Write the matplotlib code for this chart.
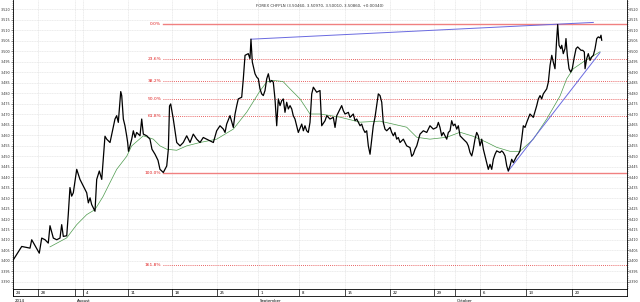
import matplotlib
matplotlib.use("Agg")
import matplotlib.pyplot as plt
from matplotlib.ticker import MultipleLocator, FormatStrFormatter
import numpy as np

# trading-day position and close price
t = [0.03, 0.97, 1.89, 2.08, 2.92, 3.19, 3.56, 3.92, 4.11, 4.48, 4.86, 5.22, 5.41, 5.59, 5.97,
     6.14, 6.33, 6.52, 6.70, 7.08, 7.44, 7.81, 8.19, 8.37, 8.56, 8.74, 9.11, 9.30, 9.59, 9.86,
     10.11, 10.22, 10.41, 10.78, 11.33, 11.52, 11.70, 11.97, 12.08, 12.26, 12.44, 12.63, 12.74,
     12.83, 13.00, 13.19, 13.37, 13.56, 13.74, 14.11, 14.30, 14.48, 14.86, 15.22, 15.44, 15.78,
     16.11, 16.33, 16.70, 17.08, 17.26, 17.39, 17.52, 17.81, 18.19, 18.56, 18.92, 19.30, 19.67,
     20.03, 20.41, 20.78, 21.14, 21.52, 21.89, 22.26, 22.63, 23.00, 23.37, 23.56, 23.74, 24.11,
     24.48, 24.67, 24.86, 25.03, 25.41, 25.59, 25.78, 26.14, 26.33, 26.44, 26.59, 26.89, 27.08,
     27.26, 27.44, 27.63, 27.81, 28.00, 28.19, 28.37, 28.56, 28.74, 28.92, 29.11, 29.30, 29.48,
     29.67, 29.86, 30.03, 30.22, 30.41, 30.59, 30.78, 30.97, 31.14, 31.33, 31.52, 31.70, 32.08,
     32.26, 32.44, 32.63, 32.81, 33.00, 33.19, 33.37, 33.74, 34.11, 34.30, 34.67, 34.86, 35.22,
     35.59, 35.78, 35.97, 36.33, 36.52, 36.70, 36.89, 37.26, 37.44, 37.81, 38.00, 38.19, 38.56,
     38.74, 38.92, 39.11, 39.30, 39.48, 39.67, 40.03, 40.22, 40.41, 40.59, 40.78, 40.97, 41.14,
     41.33, 41.52, 41.89, 42.08, 42.26, 42.44, 42.63, 42.81, 43.00, 43.37, 43.74, 44.11, 44.30,
     44.48, 44.67, 44.86, 45.22, 45.59, 45.97, 46.33, 46.70, 47.08, 47.26, 47.44, 47.63, 47.81,
     48.19, 48.37, 48.56, 48.74, 48.92, 49.11, 49.30, 49.48, 49.67, 50.03, 50.41, 50.59, 50.78,
     50.97, 51.14, 51.33, 51.52, 51.70, 51.89, 52.08, 52.26, 52.63, 52.81, 53.00, 53.19, 53.37,
     53.56, 53.74, 54.11, 54.30, 54.48, 54.67, 54.86, 55.03, 55.22, 55.41, 55.59, 55.97, 56.14,
     56.33, 56.52, 56.70, 56.89, 57.08, 57.44, 57.63, 57.81, 58.19, 58.37, 58.56, 58.74, 58.92,
     59.30, 59.48, 59.67, 59.86, 60.03, 60.22, 60.30, 60.41, 60.52, 60.67, 60.86, 60.97, 61.14,
     61.33, 61.44, 61.59, 61.78, 61.97, 62.14, 62.33, 62.56, 62.74, 62.92, 63.11, 63.30, 63.48,
     63.56, 63.74, 63.92, 64.11, 64.30, 64.48, 64.67, 64.86, 65.03, 65.22, 65.33, 65.41]
price = [3.4005, 3.4069, 3.4061, 3.4101, 3.4037, 3.4109, 3.4101, 3.4085, 3.4168, 3.4109, 3.4101,
         3.4109, 3.4173, 3.4117, 3.4120, 3.4221, 3.4350, 3.4309, 3.4325, 3.4437, 3.4389, 3.4357,
         3.4325, 3.4277, 3.4301, 3.4269, 3.4237, 3.4389, 3.4429, 3.4389, 3.4533, 3.4595, 3.4581,
         3.4565, 3.4677, 3.4693, 3.4661, 3.4808, 3.4789, 3.4677, 3.4645, 3.4597, 3.4565, 3.4523,
         3.4549, 3.4581, 3.4621, 3.4589, 3.4613, 3.4597, 3.4677, 3.4605, 3.4597, 3.4581, 3.4533,
         3.4509, 3.4480, 3.4437, 3.4422, 3.4453, 3.4533, 3.4739, 3.4749, 3.4677, 3.4565, 3.4549,
         3.4565, 3.4597, 3.4565, 3.4605, 3.4581, 3.4565, 3.4589, 3.4581, 3.4573, 3.4565, 3.4621,
         3.4645, 3.4629, 3.4613, 3.4653, 3.4693, 3.4637, 3.4701, 3.4741, 3.4773, 3.4781, 3.4869,
         3.4981, 3.4989, 3.4965, 3.5058, 3.4949, 3.4893, 3.4877, 3.4869, 3.4821, 3.4797, 3.4789,
         3.4813, 3.4869, 3.4893, 3.4853, 3.4861, 3.4853, 3.4773, 3.4645, 3.4773, 3.4741, 3.4765,
         3.4773, 3.4709, 3.4757, 3.4725, 3.4741, 3.4725, 3.4693, 3.4677, 3.4645, 3.4613, 3.4653,
         3.4621, 3.4645, 3.4621, 3.4613, 3.4661, 3.4797, 3.4829, 3.4805, 3.4813, 3.4645, 3.4669,
         3.4693, 3.4677, 3.4685, 3.4637, 3.4693, 3.4725, 3.4741, 3.4717, 3.4701, 3.4709, 3.4685,
         3.4701, 3.4669, 3.4677, 3.4645, 3.4653, 3.4629, 3.4613, 3.4621, 3.4549, 3.4509, 3.4645,
         3.4685, 3.4741, 3.4797, 3.4789, 3.4757, 3.4661, 3.4629, 3.4621, 3.4637, 3.4613, 3.4597,
         3.4613, 3.4581, 3.4589, 3.4565, 3.4581, 3.4549, 3.4541, 3.4499, 3.4509, 3.4533, 3.4549,
         3.4605, 3.4621, 3.4613, 3.4645, 3.4629, 3.4637, 3.4661, 3.4637, 3.4597, 3.4613, 3.4581,
         3.4613, 3.4621, 3.4669, 3.4645, 3.4653, 3.4629, 3.4645, 3.4597, 3.4581, 3.4565, 3.4549,
         3.4517, 3.4501, 3.4533, 3.4581, 3.4613, 3.4597, 3.4549, 3.4581, 3.4533, 3.4469, 3.4437,
         3.4461, 3.4437, 3.4485, 3.4509, 3.4525, 3.4517, 3.4525, 3.4517, 3.4501, 3.4453, 3.4429,
         3.4453, 3.4485, 3.4469, 3.4501, 3.4509, 3.4525, 3.4581, 3.4645, 3.4637, 3.4661, 3.4701,
         3.4693, 3.4685, 3.4741, 3.4773, 3.4789, 3.4773, 3.4797, 3.4821, 3.4853, 3.4933, 3.4981,
         3.4949, 3.4917, 3.4981, 3.5061, 3.5128, 3.5029, 3.5013, 3.5029, 3.4989, 3.5013, 3.5061,
         3.4981, 3.4917, 3.4901, 3.4917, 3.4965, 3.5013, 3.5021, 3.5013, 3.5005, 3.5005, 3.4997,
         3.4917, 3.4965, 3.4989, 3.4957, 3.4973, 3.4981, 3.5013, 3.5061, 3.5069, 3.5064, 3.5077,
         3.5053]

# moving average
ma_t = [4.11, 5.97, 7.08, 8.19, 9.11, 10.0, 10.78, 11.52, 12.63, 13.19, 14.48, 15.59, 16.33,
        17.08, 18.19, 19.30, 20.78, 22.63, 24.48, 25.97, 26.67, 27.44, 28.19, 28.92, 30.0, 30.78,
        31.89, 33.0, 34.11, 36.33, 38.56, 40.78, 42.22, 43.74, 44.86, 46.33, 48.19, 49.67, 51.11,
        52.63, 53.74, 55.22, 56.33, 57.81, 59.30, 60.78, 61.52, 62.26, 63.37, 64.48, 65.22]
ma = [3.4067, 3.4110, 3.4173, 3.4221, 3.4245, 3.4307, 3.4374, 3.4437, 3.4499, 3.4549, 3.4597,
      3.4581, 3.4549, 3.4533, 3.4528, 3.4549, 3.4565, 3.4581, 3.4629, 3.4710, 3.4758, 3.4811,
      3.4854, 3.4861, 3.4856, 3.4821, 3.4773, 3.4701, 3.4701, 3.4686, 3.4662, 3.4667, 3.4653,
      3.4638, 3.4590, 3.4581, 3.4590, 3.4614, 3.4595, 3.4566, 3.4542, 3.4523, 3.4523, 3.4581,
      3.4677, 3.4787, 3.4869, 3.4917, 3.4950, 3.4979, 3.4998]

# trend lines
trend1_t = [26.44, 64.48]
trend1 = [3.5058, 3.5138]
trend2_t = [55.03, 65.22]
trend2 = [3.4429, 3.4994]

# fibonacci retracement
fib_high = 3.5129
fib_low = 3.4418
fib_start = 16.67
fib_ratios = [0.0, 0.236, 0.382, 0.5, 0.618, 1.0, 1.618]
fib_labels = ["0.0%", "23.6%", "38.2%", "50.0%", "61.8%", "100.0%", "161.8%"]

# x ticks (trading days)
tick_pos = [0.0, 2.78, 6.9, 7.78, 12.78, 17.67, 22.67, 27.22, 31.78, 36.89, 41.89, 46.78, 49.1,
            51.89, 57.0, 62.11]
tick_day = ["24", "28", "", "4", "11", "18", "25", "1", "8", "15", "22", "29", "", "6", "13", "20"]
month_pos = [0.0, 6.9, 27.22, 49.1]
month_lab = ["2014", "August", "September", "October"]

title = "FOREX CHFPLN (3.50460, 3.50970, 3.50010, 3.50860, +0.00340)"

fig = plt.figure(figsize=(6.4, 3.02), dpi=100)
ax = fig.add_axes([13 / 640, 13 / 302, 614 / 640, 289 / 302])
xmax = 68.22
ax.set_xlim(0, xmax)
ax.set_ylim(3.3866, 3.5245)

ax.yaxis.set_major_locator(MultipleLocator(0.005))
ax.yaxis.set_minor_locator(MultipleLocator(0.001))
ax.yaxis.set_major_formatter(FormatStrFormatter("%.3f"))
ax.tick_params(axis="y", which="both", left=True, right=True, labelleft=True, labelright=True,
               direction="out", labelsize=2.4, colors="#333333", pad=0.4)
ax.tick_params(axis="y", which="major", length=1.2, width=0.4)
ax.tick_params(axis="y", which="minor", length=0.7, width=0.3)
ax.set_xticks(tick_pos)
ax.tick_params(axis="x", bottom=False, labelbottom=False)
ax.grid(True, which="major", color="#dddddd", lw=0.4, ls=(0, (2, 1)))
for s in ax.spines.values():
    s.set_linewidth(0.6)
ax.spines["top"].set_visible(False)

# fib levels
rng = fib_high - fib_low
for r, lab in zip(fib_ratios, fib_labels):
    lvl = fib_high - r * rng
    if r in (0.0, 1.0):
        ax.plot([fib_start, xmax], [lvl, lvl], color="#f08080", lw=1.0, zorder=2)
    else:
        ax.plot([fib_start, xmax], [lvl, lvl], color="#e03030", lw=0.6, ls=(0, (1, 1.5)), zorder=2)
    ax.text(fib_start - 0.2, lvl, lab, color="#e02020", fontsize=3.2, ha="right", va="center")

ax.plot(ma_t, ma, color="#4c9a4c", lw=0.5, zorder=3)
ax.plot(trend1_t, trend1, color="#6a6ae0", lw=0.7, zorder=3)
ax.plot(trend2_t, trend2, color="#6a6ae0", lw=0.7, zorder=3)
ax.plot(t, price, color="black", lw=0.9, zorder=4)

ax.text(0.5, 0.985, title, transform=ax.transAxes, fontsize=2.8, ha="center", va="top",
        color="#333333")

# date strip
strip = fig.add_axes([13 / 640, 6 / 302, 614 / 640, 7 / 302])
strip.set_xlim(0, xmax)
strip.set_ylim(0, 1)
strip.set_yticks([])
strip.set_xticks([])
for s in strip.spines.values():
    s.set_linewidth(0.6)
for p, d in zip(tick_pos, tick_day):
    strip.plot([p, p], [0, 1], color="black", lw=0.5)
    if d:
        strip.text(p + 0.3, 0.45, d, fontsize=2.8, va="center", ha="left")
for p, m in zip(month_pos, month_lab):
    strip.text(p + 0.2, -0.45, m, fontsize=2.8, va="top", ha="left")

fig.savefig("out.png", dpi=100)
